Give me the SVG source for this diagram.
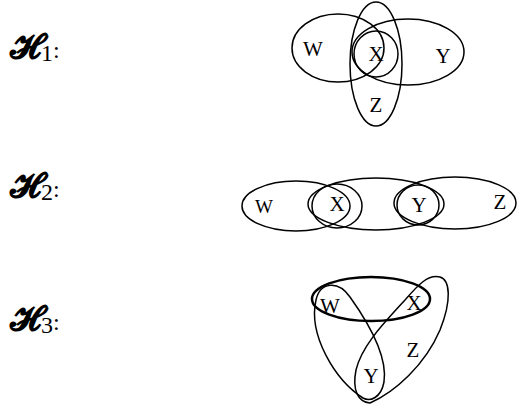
<svg xmlns="http://www.w3.org/2000/svg" width="518" height="409" viewBox="0 0 518 409">
<style>
.e{fill:none;stroke:#000;stroke-width:1.5}
.t{font-family:"Liberation Serif","Times New Roman",serif;font-size:21px;fill:#000;text-anchor:middle}
.h{font-family:"DejaVu Serif","Liberation Serif",serif;font-size:34px;font-weight:bold;fill:#000}
.s{font-family:"Liberation Serif",serif;font-size:24px;font-weight:normal;font-style:normal;fill:#000}
</style>
<rect width="518" height="409" fill="#fff"/>
<g id="labels">
<text x="10" y="58" class="h">𝓗<tspan class="s" dy="3">1</tspan><tspan class="s" dy="-3">:</tspan></text>
<text x="10" y="197" class="h">𝓗<tspan class="s" dy="3">2</tspan><tspan class="s" dy="-3">:</tspan></text>
<text x="10" y="330" class="h">𝓗<tspan class="s" dy="3">3</tspan><tspan class="s" dy="-3">:</tspan></text>
</g>
<g id="H1">
<ellipse class="e" cx="338" cy="48" rx="46" ry="34"/>
<ellipse class="e" cx="408" cy="52" rx="56" ry="33"/>
<ellipse class="e" cx="376" cy="64" rx="26" ry="62"/>
<ellipse class="e" cx="376" cy="54" rx="22" ry="23"/>
<text class="t" x="313" y="56">W</text>
<text class="t" x="376" y="61">X</text>
<text class="t" x="443" y="63">Y</text>
<text class="t" x="376" y="112">Z</text>
</g>
<g id="H2">
<ellipse class="e" cx="296" cy="206" rx="54" ry="25"/>
<ellipse class="e" cx="376" cy="204" rx="68" ry="26"/>
<ellipse class="e" cx="455" cy="203" rx="61" ry="26"/>
<ellipse class="e" cx="337" cy="206" rx="25" ry="22"/>
<ellipse class="e" cx="418" cy="205" rx="21" ry="20"/>
<text class="t" x="264" y="213" style="font-size:19px">W</text>
<text class="t" x="337" y="211">X</text>
<text class="t" x="419" y="212">Y</text>
<text class="t" x="500" y="209">Z</text>
</g>
<g id="H3">
<ellipse class="e" cx="371" cy="299" rx="59" ry="22" style="stroke-width:2.5"/>
<path class="e" d="M363,398 C335,380 308,335 316,300 C320,282 338,280 350,297 C365,318 388,355 384,382 C381,398 370,402 363,398 Z"/>
<path class="e" d="M370,403 C395,392 425,365 440,330 C452,300 450,280 440,277 C428,274 418,285 405,300 C385,322 362,345 356,370 C352,390 358,402 370,403 Z"/>
<text class="t" x="330" y="313">W</text>
<text class="t" x="414" y="310">X</text>
<text class="t" x="371" y="383">Y</text>
<text class="t" x="413" y="357">Z</text>
</g>
</svg>
